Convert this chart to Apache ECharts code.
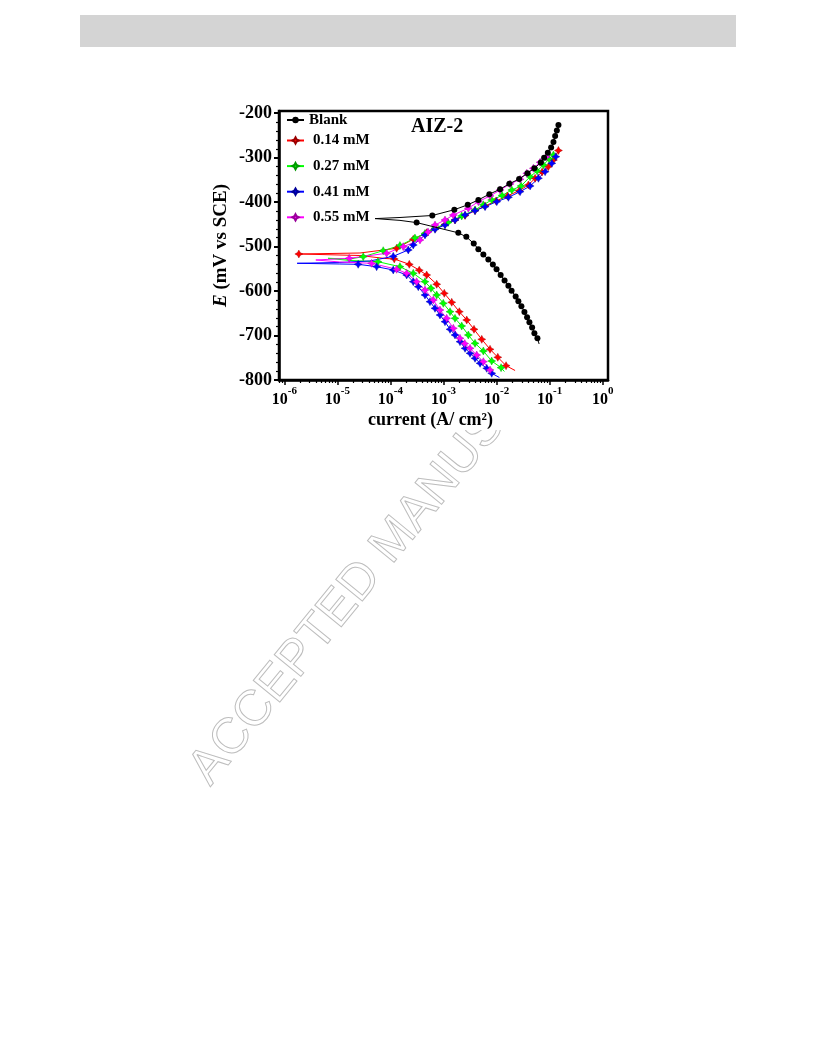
<!DOCTYPE html>
<html><head><meta charset="utf-8">
<script src="https://cdn.jsdelivr.net/npm/echarts@6/dist/echarts.min.js"></script>
<style>html,body{margin:0;padding:0;background:#fff}#chart{width:816px;height:1056px}</style>
</head><body><div id="chart"></div>
<script>
// ---- data (x = log10 of current in A/cm2, y = E in mV vs SCE) ----
const xTickExponents = [-6, -5, -4, -3, -2, -1, 0];
const yTickValues = [-800, -700, -600, -500, -400, -300, -200];
const seriesNames = ['Blank', '0.14 mM', '0.27 mM', '0.41 mM', '0.55 mM'];

const blank = {
  tip: [-4.29, -437],
  cathodicLead: [[-3.82, -441]],
  cathodic: [[-3.506,-446],[-2.721,-469],[-2.570,-478],[-2.430,-493],[-2.343,-506],[-2.249,-518],[-2.155,-529],[-2.070,-540],[-2.0,-551],[-1.923,-564],[-1.849,-576],[-1.777,-588],[-1.717,-599],[-1.640,-612],[-1.589,-623],[-1.532,-634],[-1.475,-647],[-1.425,-659],[-1.381,-670],[-1.330,-682],[-1.287,-695],[-1.230,-706]],
  cathodicTail: [[-1.198, -719]],
  anodicLead: [[-3.82, -434.5]],
  anodic: [[-3.211,-430],[-2.796,-417],[-2.543,-406],[-2.343,-395],[-2.136,-382],[-1.934,-371],[-1.758,-358.5],[-1.575,-348],[-1.419,-335],[-1.287,-324],[-1.166,-311],[-1.104,-300],[-1.034,-289],[-0.972,-277],[-0.928,-265],[-0.896,-251],[-0.864,-239],[-0.834,-226.5]]
};
const c014 = {
  tip: [-5.726, -516.6],
  cathodicLead: [[-4.575,-520],[-4.104,-526.7]],
  cathodic: [[-3.928,-527.8],[-3.645,-539.8],[-3.457,-553],[-3.317,-563.8],[-3.128,-584.7],[-2.985,-605],[-2.845,-625.2],[-2.702,-646.4],[-2.562,-665],[-2.425,-686],[-2.279,-708.5],[-2.123,-730.9],[-1.977,-748.9],[-1.821,-767.8]],
  cathodicTail: [[-1.651, -778.6]],
  anodicLead: [[-4.575, -514.4]],
  anodic: [[-3.883,-503.8],[-3.570,-483.5],[-3.317,-468.7],[-3.15,-459],[-2.972,-450.2],[-2.783,-440.1],[-2.594,-430],[-2.406,-419.2],[-2.217,-408.6],[-2.009,-397.4],[-1.796,-386.1],[-1.575,-374.2],[-1.400,-361.4],[-1.274,-346.3],[-1.142,-332.2],[-1.023,-320.2],[-0.928,-305.2],[-0.834,-283.8]]
};
const c027 = {
  tip: [-5.174, -526.3],
  cathodicLead: [[-4.764, -531.2]],
  cathodic: [[-4.236,-533.9],[-3.821,-545.2],[-3.570,-560],[-3.349,-578.9],[-3.236,-593.7],[-3.128,-608.8],[-3.004,-627.5],[-2.877,-646.4],[-2.783,-661.2],[-2.657,-678.5],[-2.532,-698.8],[-2.406,-717.5],[-2.249,-734.8],[-2.092,-757.3],[-1.915,-772.3]],
  cathodicTail: [[-1.853, -780.9]],
  anodicLead: [[-4.764, -527.8]],
  anodic: [[-4.513,-522.7],[-4.136,-509.2],[-3.821,-497.5],[-3.538,-480.6],[-3.349,-470.5],[-3.160,-458.8],[-2.915,-445.8],[-2.657,-431.1],[-2.406,-417.6],[-2.25,-406],[-2.092,-395.1],[-1.896,-385],[-1.713,-372.7],[-1.538,-363.7],[-1.368,-342.7],[-1.236,-329.9],[-1.117,-316.4],[-1.009,-302.9],[-0.928,-293.9]]
};
const c041 = {
  tip: [-5.758, -537.5],
  cathodicLead: [[-4.953, -539.1]],
  cathodic: [[-4.608,-539.8],[-4.260,-545.2],[-3.947,-552.6],[-3.694,-563.8],[-3.570,-578.9],[-3.475,-590.2],[-3.349,-608.8],[-3.255,-623.9],[-3.160,-638.7],[-3.066,-653.8],[-2.972,-668.9],[-2.877,-686],[-2.783,-698.8],[-2.689,-713.9],[-2.594,-728.7],[-2.500,-739.9],[-2.406,-751.2],[-2.311,-762.4],[-2.185,-773.7],[-2.091,-784.9]],
  cathodicTail: [[-1.947, -794.4]],
  anodicLead: [[-4.953,-535.7],[-4.387,-532.3]],
  anodic: [[-3.947,-521.8],[-3.664,-507.6],[-3.570,-496.4],[-3.349,-473.9],[-3.160,-461],[-2.972,-451.4],[-2.783,-440.1],[-2.594,-428.9],[-2.406,-419.2],[-2.217,-410.2],[-1.996,-398.9],[-1.777,-389.1],[-1.557,-376.5],[-1.368,-363.7],[-1.211,-346.3],[-1.085,-331.5],[-0.958,-312.6],[-0.883,-297.8]]
};
const c055 = {
  tip: [-5.406, -530.1],
  cathodicLead: [[-4.953, -534.6]],
  cathodic: [[-4.355,-537.5],[-3.883,-551],[-3.694,-560],[-3.506,-578.9],[-3.349,-597.6],[-3.192,-620.1],[-3.066,-642.6],[-2.940,-661.2],[-2.815,-683.7],[-2.689,-706.2],[-2.6,-718],[-2.500,-728.7],[-2.374,-743.8],[-2.249,-758.8],[-2.123,-777.5]],
  cathodicTail: [[-2.047, -786.5]],
  anodicLead: [],
  anodic: [[-4.777,-526.3],[-4.072,-515],[-3.758,-500.2],[-3.443,-485.1],[-3.292,-467.1],[-3.160,-451.4],[-2.972,-440.1],[-2.815,-428.9],[-2.532,-413.8],[-2.343,-398.9],[-2.123,-386.1],[-1.934,-372.7],[-1.745,-359.2],[-1.557,-348.6],[-1.430,-335.1],[-1.306,-323.8],[-1.179,-310.3],[-1.066,-298.4]]
};

// ---- build ----
const FONT = "'Liberation Serif','Times New Roman',serif";
const STAR = 'path://M0,-10 L3.5,-3.5 L10,0 L3.5,3.5 L0,10 L-3.5,3.5 L-10,0 L-3.5,-3.5 Z';

function buildPath(c, tipMarker) {
  const pt = (p, m) => m ? { value: p } : { value: p, symbol: 'none' };
  const cath = [
    ...c.cathodicLead.map(p => pt(p, false)),
    ...c.cathodic.map(p => pt(p, true)),
    ...c.cathodicTail.map(p => pt(p, false))
  ].reverse();
  const anod = [
    ...c.anodicLead.map(p => pt(p, false)),
    ...c.anodic.map(p => pt(p, true))
  ];
  return [...cath, pt(c.tip, tipMarker), ...anod];
}

const curves = [
  { d: blank, color: '#000000', border: '#000000', symbol: 'circle', size: 6, tip: false, z: 4 },
  { d: c014, color: '#ff0000', border: '#990000', symbol: STAR, size: 8, tip: true, z: 3 },
  { d: c027, color: '#00ff00', border: '#009900', symbol: STAR, size: 8, tip: false, z: 3 },
  { d: c041, color: '#0000ff', border: '#000099', symbol: STAR, size: 8, tip: false, z: 3 },
  { d: c055, color: '#ff00ff', border: '#990099', symbol: STAR, size: 8, tip: false, z: 3 }
];

const series = curves.map((c, i) => ({
  name: seriesNames[i],
  type: 'line',
  xAxisIndex: 0, yAxisIndex: 0,
  data: buildPath(c.d, c.tip),
  symbol: c.symbol,
  symbolSize: c.size,
  showSymbol: true,
  showAllSymbol: true,
  z: c.z,
  lineStyle: { color: c.color, width: 1 },
  itemStyle: { color: c.color, borderColor: c.border, borderWidth: c.symbol === 'circle' ? 0 : 0.4 },
  emphasis: { disabled: true },
  animation: false
}));

const minorX = [];
for (let n = -7; n <= 0; n++) {
  for (let k = 2; k <= 9; k++) {
    const v = n + Math.log10(k);
    if (v > -6.1 && v < 0.1) minorX.push(v);
  }
}
const minorY = [];
for (let v = -780; v <= -200; v += 20) if (v % 100 !== 0) minorY.push(v);

const xMin = -6.1, xMax = 0.1, yMin = -800, yMax = -195;
const gridBox = { left: 279, right: 208, top: 111, bottom: 676 };

const chart = echarts.init(document.getElementById('chart'), null, { renderer: 'canvas' });
chart.setOption({
  backgroundColor: '#ffffff',
  animation: false,
  title: {
    text: 'AIZ-2', left: 411, top: 117, padding: 0,
    textStyle: { fontFamily: FONT, fontWeight: 'bold', fontSize: 20, color: '#000' }
  },
  legend: [
    {
      data: [seriesNames[0]], orient: 'vertical', left: 286, top: 112, padding: 0,
      itemWidth: 17, itemHeight: 8, itemGap: 10, selectedMode: false,
      textStyle: { fontFamily: FONT, fontWeight: 'bold', fontSize: 15, color: '#000', lineHeight: 16 }
    },
    {
      data: seriesNames.slice(1), orient: 'vertical', left: 286, top: 132.5, padding: 0,
      itemWidth: 17, itemHeight: 8, itemGap: 9.6, selectedMode: false,
      textStyle: { fontFamily: FONT, fontWeight: 'bold', fontSize: 15, color: '#000', lineHeight: 16, padding: [0, 0, 0, 4] }
    }
  ],
  grid: [
    Object.assign({ show: true, borderColor: '#000', borderWidth: 2.5, backgroundColor: 'transparent' }, gridBox),
    Object.assign({ show: false }, gridBox)
  ],
  xAxis: [
    {
      type: 'value', gridIndex: 0, min: xMin, max: xMax, position: 'bottom',
      name: 'current (A/ cm²)', nameLocation: 'middle', nameGap: 31,
      nameTextStyle: { fontFamily: FONT, fontWeight: 'bold', fontSize: 18, color: '#000', padding: [0, 26, 0, 0] },
      axisLine: { show: true, onZero: false, lineStyle: { color: '#000', width: 2.5 } },
      axisTick: { show: true, inside: false, length: 5, customValues: xTickExponents, lineStyle: { color: '#000', width: 1.5 } },
      splitLine: { show: false },
      axisLabel: {
        customValues: xTickExponents, margin: 6,
        formatter: v => '{b|10}{s|' + v + '}',
        rich: {
          b: { fontFamily: FONT, fontWeight: 'bold', fontSize: 16, color: '#000', lineHeight: 22, verticalAlign: 'bottom' },
          s: { fontFamily: FONT, fontWeight: 'bold', fontSize: 11, color: '#000', lineHeight: 8, verticalAlign: 'top' }
        }
      }
    },
    {
      type: 'value', gridIndex: 1, min: xMin, max: xMax, position: 'bottom',
      axisLine: { show: false, onZero: false },
      axisTick: { show: true, inside: false, length: 3, customValues: minorX, lineStyle: { color: '#000', width: 1.2 } },
      axisLabel: { show: false },
      splitLine: { show: false }
    }
  ],
  yAxis: [
    {
      type: 'value', gridIndex: 0, min: yMin, max: yMax, position: 'left',
      name: '{i|E} (mV vs SCE)', nameLocation: 'middle', nameGap: 48, nameRotate: 90,
      nameTextStyle: {
        fontFamily: FONT, fontWeight: 'bold', fontSize: 19, color: '#000',
        rich: { i: { fontFamily: FONT, fontWeight: 'bold', fontStyle: 'italic', fontSize: 19, color: '#000' } }
      },
      axisLine: { show: true, onZero: false, lineStyle: { color: '#000', width: 2.5 } },
      axisTick: { show: true, inside: false, length: 5, customValues: yTickValues, lineStyle: { color: '#000', width: 2 } },
      splitLine: { show: false },
      axisLabel: {
        customValues: yTickValues, margin: 7,
        fontFamily: FONT, fontWeight: 'bold', fontSize: 18, color: '#000'
      }
    },
    {
      type: 'value', gridIndex: 1, min: yMin, max: yMax, position: 'left',
      axisLine: { show: false, onZero: false },
      axisTick: { show: true, inside: false, length: 3, customValues: minorY, lineStyle: { color: '#000', width: 1.2 } },
      axisLabel: { show: false },
      splitLine: { show: false }
    }
  ],
  graphic: [
    { type: 'rect', z: -10, shape: { x: 80, y: 15, width: 656, height: 32 }, style: { fill: '#d4d4d4' } },
    {
      type: 'text', z: -9, x: 219, y: 794, rotation: 0.885,
      style: { text: 'ACCEPTED MANUSCRIPT', x: 0, y: 0, textAlign: 'left', textVerticalAlign: 'bottom',
        font: "50px 'Liberation Sans', Arial, sans-serif", fill: 'rgba(0,0,0,0)', stroke: '#bdbdbd', lineWidth: 1 }
    },
    { type: 'rect', z: -8, shape: { x: 200, y: 95, width: 420, height: 335 }, style: { fill: '#ffffff' } }
  ],
  series
});
</script>
</body></html>
